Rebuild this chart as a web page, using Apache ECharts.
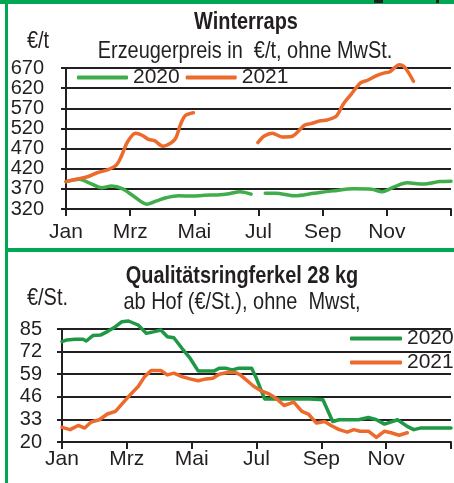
<!DOCTYPE html>
<html>
<head>
<meta charset="utf-8">
<script src="https://cdn.jsdelivr.net/npm/echarts@6/dist/echarts.min.js"></script>
<style>
  html, body { margin: 0; padding: 0; background: #fff; }
  #chart { width: 454px; height: 483px; }
</style>
</head>
<body>
<div id="chart"></div>
<script>
// month names for the x axis (tick every 2 months)
const monthNames = ['Jan', 'Feb', 'Mrz', 'Apr', 'Mai', 'Jun', 'Jul', 'Aug', 'Sep', 'Okt', 'Nov', 'Dez'];

// Winterraps, Erzeugerpreis €/t  (x = month position, 0 = 1. Jan)
const rapsMonths2020 = [0, .42, .72, 1.12, 1.42, 1.77, 2.12, 2.52, 2.82, 3.12, 3.52, 3.92, 4.32, 4.7, 5.02, 5.43, 5.77, 6.0, 6.21, 6.53, 7.13, 7.73, 8.33, 8.98, 9.53, 9.85, 10.23, 10.63, 11.13, 11.65, 12];
const raps2020 = [388, 394, 385, 373, 377, 370, 351, 332, 340, 348, 353, 352, 354, 355, 357, 363, 357, null, 359, 359, 353, 359, 365, 370, 369, 363, 375, 385, 382, 388, 389];
const rapsMonths2021 = [0, .32, .67, .97, 1.32, 1.57, 1.72, 1.92, 2.17, 2.37, 2.57, 2.77, 3.02, 3.27, 3.42, 3.57, 3.72, 3.97, 5.0, 5.98, 6.18, 6.43, 6.73, 7.03, 7.23, 7.43, 7.63, 7.93, 8.13, 8.43, 8.63, 8.88, 9.18, 9.38, 9.68, 9.93, 10.08, 10.23, 10.38, 10.53, 10.68, 10.83];
const raps2021 = [388, 394, 400, 410, 418, 429, 450, 487, 508, 503, 493, 489, 476, 484, 496, 530, 552, 559, null, 485, 501, 508, 499, 500, 512, 528, 532, 539, 541, 551, 579, 604, 633, 639, 651, 658, 660, 670, 678, 674, 658, 637];
const rapsTicks = [320, 370, 420, 470, 520, 570, 620, 670];

// Qualitätsringferkel 28 kg, €/St.
const ferkelMonths2020 = [0, .15, .4, .65, .75, .95, 1.2, 1.4, 1.65, 1.85, 2.05, 2.35, 2.6, 2.85, 3.05, 3.25, 3.45, 3.7, 3.95, 4.2, 4.45, 4.7, 4.85, 5.05, 5.25, 5.45, 5.85, 6.0, 6.25, 6.65, 7.15, 7.65, 8.05, 8.35, 8.55, 9.15, 9.45, 9.7, 9.95, 10.35, 10.65, 10.85, 11.05, 12];
const ferkel2020 = [77.7, 78.7, 79.1, 79.1, 78.1, 81.2, 81.6, 83.5, 86.3, 89.2, 89.6, 87.3, 82.5, 83.5, 84.4, 80.6, 80.0, 73.9, 68.2, 60.9, 60.9, 60.9, 62.4, 62.4, 61.5, 62.4, 62.4, 56.5, 44.8, 44.8, 44.8, 44.8, 44.3, 31.8, 32.8, 32.8, 34.1, 32.8, 30.3, 32.8, 29.0, 27.1, 28.0, 28.0];
const ferkelMonths2021 = [0, .25, .5, .7, .9, 1.15, 1.4, 1.65, 1.9, 2.1, 2.35, 2.55, 2.75, 3.05, 3.25, 3.45, 3.7, 3.95, 4.2, 4.45, 4.65, 4.85, 5.1, 5.35, 5.5, 5.7, 5.9, 6.15, 6.4, 6.6, 6.85, 7.15, 7.4, 7.6, 7.85, 8.1, 8.3, 8.55, 8.8, 9.0, 9.2, 9.45, 9.7, 9.95, 10.15, 10.4, 10.65];
const ferkel2021 = [28.4, 27.1, 29.5, 28.0, 31.5, 32.8, 36.1, 37.6, 42.9, 47.1, 51.9, 57.6, 61.1, 61.1, 58.6, 59.6, 57.6, 56.3, 55.2, 56.3, 56.7, 59.0, 60.0, 60.0, 58.6, 55.5, 52.2, 49.4, 47.5, 45.2, 41.0, 42.9, 37.6, 36.1, 30.9, 31.8, 29.5, 27.1, 25.7, 27.1, 26.2, 26.2, 22.6, 26.2, 25.3, 23.9, 25.3];
const ferkelTicks = [20, 33, 46, 59, 72, 85];

const font = "'Liberation Sans', Arial, sans-serif";
const ink = '#231f20';
const frameGreen = '#00a651';
const rapsGreen = '#3fae4a';
const ferkelGreen = '#1f9846';
const orange = '#ec6a2c';

// y axes start at the first tick, values are drawn relative to it
function pairs(months, values, base) {
  return months.map((m, i) => [m, values[i] == null ? '-' : values[i] - base]);
}

function xAxisFor(gridIndex, labelMargin) {
  return {
    type: 'value', gridIndex: gridIndex, min: 0, max: 12, interval: 2,
    axisLine: { show: true, lineStyle: { color: ink, width: 2 } },
    axisTick: { show: true, length: 7, lineStyle: { color: ink, width: 2 } },
    axisLabel: {
      margin: labelMargin, color: ink, fontFamily: font, fontSize: 21,
      showMinLabel: true,
      formatter: v => monthNames[v] || ''
    },
    splitLine: { show: false }
  };
}

function yAxisFor(gridIndex, ticks, labelMargin) {
  const base = ticks[0];
  const step = ticks[1] - ticks[0];
  return {
    type: 'value', gridIndex: gridIndex, min: 0, max: ticks[ticks.length - 1] - base, interval: step,
    axisLine: { show: true, lineStyle: { color: ink, width: 2 } },
    axisTick: { show: true, length: 5, lineStyle: { color: ink, width: 2 } },
    axisLabel: {
      margin: labelMargin, color: ink, fontFamily: font, fontSize: 20,
      showMinLabel: true, showMaxLabel: true, hideOverlap: false,
      formatter: v => String(v + base)
    },
    splitLine: { show: true, lineStyle: { color: ink, width: 2 } }
  };
}

function lineSeries(name, axisIndex, data, color, smooth) {
  return {
    name: name, type: 'line', xAxisIndex: axisIndex, yAxisIndex: axisIndex,
    data: data, smooth: smooth, showSymbol: false, symbol: 'none', clip: false,
    connectNulls: false,
    lineStyle: { color: color, width: 3.5, cap: 'round', join: 'round' },
    itemStyle: { color: color }
  };
}

// condensed look: regular font squeezed horizontally
function label(text, x, y, size, bold, align) {
  return {
    type: 'text', x: x, y: y, scaleX: 0.83, silent: true,
    style: {
      text: text, fill: ink, align: align || 'center', verticalAlign: 'middle',
      font: (bold ? 'bold ' : '') + size + 'px ' + font
    }
  };
}

const chart = echarts.init(document.getElementById('chart'));

const option = {
  animation: false,
  backgroundColor: '#fff',
  grid: [
    { left: 66, right: -12, top: 68, bottom: 274 },
    { left: 62, right: -8, top: 329, bottom: 41 }
  ],
  xAxis: [xAxisFor(0, 13), xAxisFor(1, 7)],
  yAxis: [yAxisFor(0, rapsTicks, 22), yAxisFor(1, ferkelTicks, 20)],
  legend: [
    {
      data: ['2020', '2021'], left: 77, top: 67, padding: 0,
      itemWidth: 51, itemHeight: 4, itemGap: 6, icon: 'roundRect',
      textStyle: { color: ink, fontFamily: font, fontSize: 21 }
    },
    {
      data: ['Ferkel 2020', 'Ferkel 2021'], orient: 'vertical', left: 350, top: 328, padding: 0,
      itemWidth: 52, itemHeight: 4, itemGap: 3, icon: 'roundRect',
      formatter: n => n.replace('Ferkel ', ''),
      textStyle: { color: ink, fontFamily: font, fontSize: 21 }
    }
  ],
  series: [
    lineSeries('2020', 0, pairs(rapsMonths2020, raps2020, rapsTicks[0]), rapsGreen, 0.3),
    lineSeries('2021', 0, pairs(rapsMonths2021, raps2021, rapsTicks[0]), orange, 0.3),
    lineSeries('Ferkel 2020', 1, pairs(ferkelMonths2020, ferkel2020, ferkelTicks[0]), ferkelGreen, false),
    lineSeries('Ferkel 2021', 1, pairs(ferkelMonths2021, ferkel2021, ferkelTicks[0]), orange, false)
  ],
  graphic: [
    label('Winterraps', 246, 22, 24, true),
    label('Erzeugerpreis in  €/t, ohne MwSt.', 245, 51, 24, false),
    label('€/t', 27, 41, 24, false, 'left'),
    label('Qualitätsringferkel 28 kg', 242, 276, 24, true),
    label('ab Hof (€/St.), ohne  Mwst,', 242, 302, 24, false),
    label('€/St.', 27, 298, 24, false, 'left'),
    // green frame
    { type: 'rect', silent: true, shape: { x: 0, y: 0, width: 454, height: 4 }, style: { fill: frameGreen } },
    { type: 'rect', silent: true, shape: { x: 5, y: 0, width: 3, height: 483 }, style: { fill: frameGreen } },
    { type: 'rect', silent: true, shape: { x: 5, y: 248, width: 449, height: 4 }, style: { fill: frameGreen } },
    { type: 'rect', silent: true, shape: { x: 374, y: 0, width: 9, height: 3 }, style: { fill: ink } },
    { type: 'rect', silent: true, shape: { x: 436, y: 0, width: 3, height: 3 }, style: { fill: ink } }
  ]
};

chart.setOption(option);
</script>
</body>
</html>
